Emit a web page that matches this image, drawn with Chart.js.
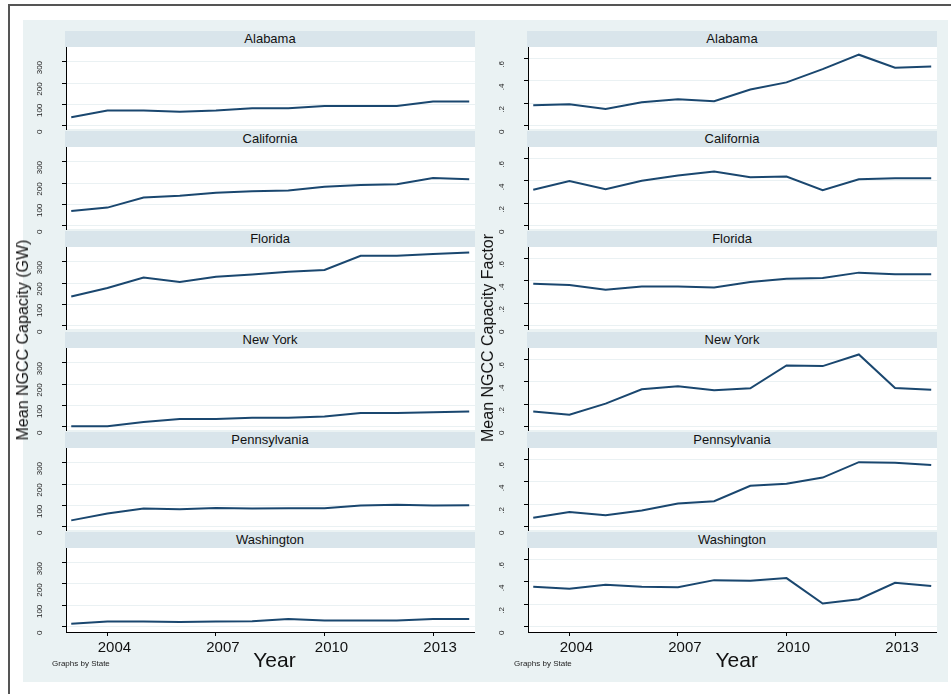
<!DOCTYPE html>
<html>
<head>
<meta charset="utf-8">
<script src="https://cdn.jsdelivr.net/npm/chart.js@4/dist/chart.umd.min.js"></script>
<style>
  html, body { margin: 0; padding: 0; background: #fff; }
  body { width: 951px; height: 694px; position: relative; overflow: hidden;
         font-family: "Liberation Sans", Arial, sans-serif; color: #111; }
  .abs { position: absolute; }
  .frame { left: 8px; top: 4px; width: 1200px; height: 1000px;
           border-left: 2px solid #555; border-top: 2px solid #555; }
  .bg { left: 23px; top: 20px; width: 925px; height: 662px; background: #EAF2F3; }
  .strip { background: #D9E5EB; color: #111; font-size: 13px; line-height: 16px;
           height: 16px; text-align: center; white-space: nowrap; }
  .ytitle { font-size: 16px; line-height: 16px; white-space: nowrap;
            transform: translate(-50%, -50%) rotate(-90deg); }
  .xtitle { font-size: 21px; line-height: 21px; white-space: nowrap; transform: translateX(-50%); }
  .note { font-size: 8px; line-height: 8px; white-space: nowrap; color: #222; }
  canvas { position: absolute; }
</style>
</head>
<body>
<div class="abs frame"></div>
<div class="abs bg"></div>

<script>
// Years on the horizontal axis and the states shown, one row each
const years = [2003, 2004, 2005, 2006, 2007, 2008, 2009, 2010, 2011, 2012, 2013, 2014];
const states = ['Alabama', 'California', 'Florida', 'New York', 'Pennsylvania', 'Washington'];

// Mean NGCC capacity (GW) by state
const capAlabama      = [40, 71, 71, 66, 71, 82, 82, 92, 92, 92, 114, 114];
const capCalifornia   = [69, 85, 132, 140, 155, 162, 165, 182, 191, 194, 223, 217];
const capFlorida      = [137, 177, 226, 205, 229, 240, 253, 261, 327, 327, 335, 343];
const capNewYork      = [3, 3, 22, 37, 37, 42, 42, 48, 64, 64, 68, 72];
const capPennsylvania = [30, 62, 85, 82, 88, 85, 87, 87, 100, 103, 100, 101];
const capWashington   = [14, 25, 25, 22, 25, 26, 36, 29, 29, 29, 36, 36];

// Mean NGCC capacity factor by state
const cfAlabama      = [0.183, 0.192, 0.150, 0.210, 0.237, 0.219, 0.324, 0.387, 0.505, 0.634, 0.517, 0.529];
const cfCalifornia   = [0.321, 0.399, 0.327, 0.402, 0.449, 0.485, 0.432, 0.440, 0.318, 0.414, 0.423, 0.423];
const cfFlorida      = [0.375, 0.363, 0.321, 0.351, 0.351, 0.342, 0.390, 0.420, 0.426, 0.474, 0.459, 0.459];
const cfNewYork      = [0.136, 0.107, 0.207, 0.334, 0.361, 0.325, 0.343, 0.547, 0.541, 0.645, 0.346, 0.331];
const cfPennsylvania = [0.080, 0.131, 0.104, 0.145, 0.208, 0.228, 0.365, 0.383, 0.439, 0.576, 0.570, 0.552];
const cfWashington   = [0.358, 0.340, 0.375, 0.358, 0.352, 0.416, 0.411, 0.434, 0.208, 0.246, 0.393, 0.364];

// Tick values and their printed labels
const xTickYears   = [2004, 2007, 2010, 2013];
const capTicks     = [0, 100, 200, 300];
const capTickText  = ['0', '100', '200', '300'];
const cfTicks      = [0, 0.2, 0.4, 0.6];
const cfTickText   = ['0', '.2', '.4', '.6'];

const capSeries = [capAlabama, capCalifornia, capFlorida, capNewYork, capPennsylvania, capWashington];
const cfSeries  = [cfAlabama, cfCalifornia, cfFlorida, cfNewYork, cfPennsylvania, cfWashington];

// ---- layout ----
const FONT = '"Liberation Sans", Arial, sans-serif';
const LINE_COLOR = '#1A476F';
const STRIP0 = 30.7, ROW_STEP = 100.3, STRIP_H = 16;
const PLOT_W = 409, Y_AXIS_W = 45;
const ZERO_OFF = 78.8;               // distance of the zero line below the plot top
const LABEL_ROOM = 12;               // room under inner panels for the shifted "0" label
const X_MIN = 2002.855, X_MAX = 2014.16;

Chart.defaults.font.family = FONT;

const plotBackground = {
  id: 'plotBackground',
  beforeDraw(chart) {
    const a = chart.chartArea, ctx = chart.ctx;
    ctx.save();
    ctx.fillStyle = '#ffffff';
    ctx.fillRect(a.left, a.top, a.right - a.left, a.bottom - a.top);
    ctx.restore();
  }
};

function addDiv(cls, text, style) {
  const d = document.createElement('div');
  d.className = 'abs ' + cls;
  d.textContent = text;
  Object.assign(d.style, style);
  document.body.appendChild(d);
  return d;
}

function makePanel(col, row, values) {
  const isBottom = row === states.length - 1;
  const stripTop = Math.round(STRIP0 + row * ROW_STEP);
  const plotTop = stripTop + STRIP_H;
  const plotH = isBottom ? 84 : 82;
  const axisX = col === 0 ? 66 : 528;
  const xAxisH = isBottom ? 30 : 0;
  const padBottom = isBottom ? 0 : LABEL_ROOM;

  addDiv('strip', states[row], { left: (axisX - 1) + 'px', top: stripTop + 'px', width: (PLOT_W + 1) + 'px' });

  const canvas = document.createElement('canvas');
  canvas.width = Y_AXIS_W + PLOT_W;
  canvas.height = plotH + xAxisH + padBottom;
  canvas.style.left = (axisX - Y_AXIS_W) + 'px';
  canvas.style.top = plotTop + 'px';
  canvas.style.width = canvas.width + 'px';
  canvas.style.height = canvas.height + 'px';
  document.body.appendChild(canvas);

  const pxPerUnit = col === 0 ? 64.2 / 300 : 67.3 / 0.6;
  const yMax = ZERO_OFF / pxPerUnit;
  const yMin = -(plotH - ZERO_OFF) / pxPerUnit;
  const yTicks = col === 0 ? capTicks : cfTicks;
  const yText = col === 0 ? capTickText : cfTickText;
  const labelPad = col === 0 ? 15.3 : 18.7;

  new Chart(canvas, {
    type: 'line',
    data: {
      datasets: [{
        data: years.map((yr, i) => ({ x: yr, y: values[i] })),
        borderColor: LINE_COLOR,
        borderWidth: 2,
        pointRadius: 0,
        tension: 0,
        fill: false
      }]
    },
    options: {
      responsive: false,
      animation: false,
      events: [],
      layout: { padding: { top: 0, left: 0, right: 0, bottom: padBottom }, autoPadding: false },
      plugins: { legend: { display: false }, tooltip: { enabled: false } },
      scales: {
        x: {
          type: 'linear',
          min: X_MIN, max: X_MAX,
          display: isBottom,
          afterBuildTicks: s => { s.ticks = xTickYears.map(v => ({ value: v })); },
          afterFit: s => { s.height = xAxisH; s.paddingLeft = 0; s.paddingRight = 0; },
          grid: { drawOnChartArea: false, tickLength: 4, tickColor: '#000', tickWidth: 1 },
          border: { display: true, color: '#000', width: 1 },
          ticks: {
            font: { size: 15 }, color: '#111', padding: 3, labelOffset: 7,
            maxRotation: 0, autoSkip: false,
            callback: v => String(v)
          }
        },
        y: {
          type: 'linear',
          min: yMin, max: yMax,
          afterBuildTicks: s => { s.ticks = yTicks.map(v => ({ value: v })); },
          afterFit: s => { s.width = Y_AXIS_W; s.paddingTop = 0; s.paddingBottom = 0; },
          grid: { color: '#EAF1F3', lineWidth: 1, tickColor: '#000', tickLength: 4, tickWidth: 1 },
          border: { display: true, color: '#000', width: 1 },
          ticks: {
            font: { size: 8 }, color: '#222',
            minRotation: 90, maxRotation: 90, crossAlign: 'center',
            labelOffset: 6, padding: labelPad, autoSkip: false,
            callback: (v, i) => yText[i]
          }
        }
      }
    },
    plugins: [plotBackground]
  });
}

states.forEach((s, r) => {
  makePanel(0, r, capSeries[r]);
  makePanel(1, r, cfSeries[r]);
});

// Axis titles and footnotes
addDiv('ytitle', 'Mean NGCC Capacity (GW)', { left: '23px', top: '340px' });
addDiv('ytitle', 'Mean NGCC Capacity Factor', { left: '488px', top: '338px' });
addDiv('xtitle', 'Year', { left: '274.5px', top: '649px' });
addDiv('xtitle', 'Year', { left: '736.7px', top: '649px' });
addDiv('note', 'Graphs by State', { left: '52px', top: '660px' });
addDiv('note', 'Graphs by State', { left: '514px', top: '660px' });
</script>
</body>
</html>
